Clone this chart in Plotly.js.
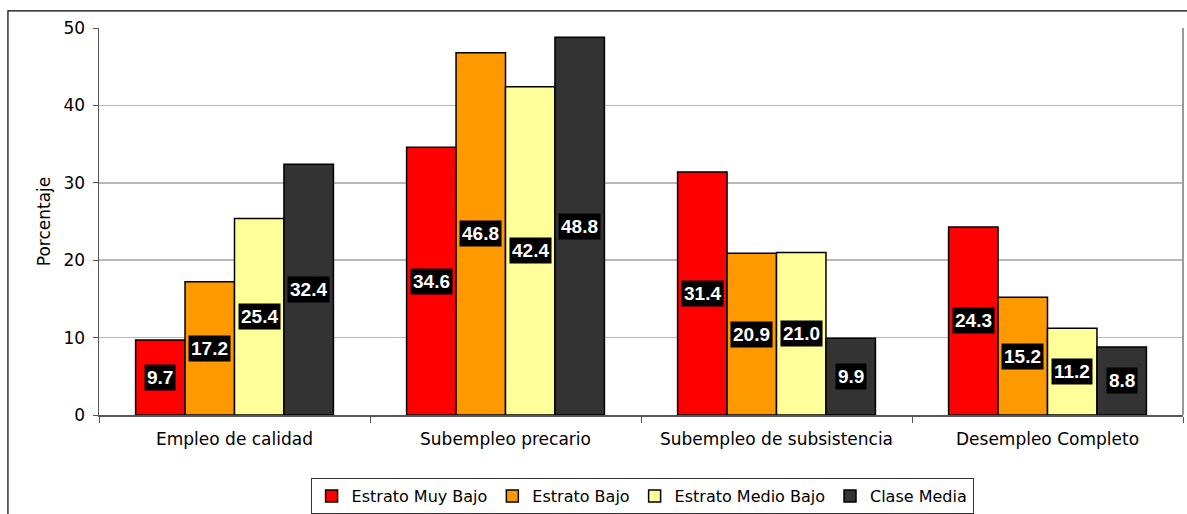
<!DOCTYPE html>
<html>
<head>
<meta charset="utf-8">
<script src="https://cdn.plot.ly/plotly-3.0.1.min.js"></script>
<style>
html,body{margin:0;padding:0;background:#fff;overflow:hidden;}
#chart{width:1187px;height:514px;}
</style>
</head>
<body>
<div id="chart"></div>
<script>
const categories = ["Empleo de calidad", "Subempleo precario", "Subempleo de subsistencia", "Desempleo Completo"];
const seriesNames = ["Estrato Muy Bajo", "Estrato Bajo", "Estrato Medio Bajo", "Clase Media"];
const muyBajo = [9.7, 34.6, 31.4, 24.3];
const bajo = [17.2, 46.8, 20.9, 15.2];
const medioBajo = [25.4, 42.4, 21.0, 11.2];
const claseMedia = [32.4, 48.8, 9.9, 8.8];
const colors = ["#FF0000", "#FF9900", "#FFFF99", "#333333"];
const yTicks = [0, 10, 20, 30, 40, 50];

const series = [muyBajo, bajo, medioBajo, claseMedia];
const bargap = 0.27;
const FONT = "DejaVu Sans, Liberation Sans, Arial, sans-serif";
const LABEL_FONT = "Liberation Sans, Arial, sans-serif";

const traces = series.map((vals, j) => ({
  type: "bar",
  name: seriesNames[j],
  x: categories,
  y: vals,
  marker: {color: colors[j], line: {color: "#000000", width: 1.5}},
  hoverinfo: "none"
}));

const barW = (1 - bargap) / series.length;
const annotations = [];
series.forEach((vals, j) => {
  vals.forEach((v, i) => {
    annotations.push({
      xref: "x", yref: "y",
      x: i + (j - (series.length - 1) / 2) * barW,
      y: v / 2,
      text: "<b>" + v.toFixed(1) + "</b>",
      showarrow: false,
      font: {family: LABEL_FONT, size: 19, color: "#FFFFFF"},
      bgcolor: "#000000",
      borderpad: 2
    });
  });
});

const layout = {
  width: 1187, height: 514,
  margin: {l: 99, r: 4, t: 28, b: 99, autoexpand: false},
  paper_bgcolor: "#FFFFFF",
  plot_bgcolor: "#FFFFFF",
  barmode: "group",
  bargap: bargap,
  bargroupgap: 0,
  font: {family: FONT, size: 17, color: "#000000"},
  showlegend: true,
  legend: {
    orientation: "h", x: 0.501, xanchor: "center", y: -0.163, yanchor: "top",
    bordercolor: "#333333", borderwidth: 1,
    font: {family: FONT, size: 16, color: "#000000"},
    itemwidth: 30, tracegroupgap: 0
  },
  xaxis: {
    type: "category",
    tickson: "boundaries",
    ticks: "outside", ticklen: 6, tickcolor: "#555555",
    showline: true, linecolor: "#555555", linewidth: 1.5,
    showgrid: false,
    tickfont: {family: FONT, size: 17, color: "#000000"},
    ticklabelstandoff: 8,
    fixedrange: true
  },
  yaxis: {
    range: [0, 50],
    tickvals: yTicks,
    ticks: "outside", ticklen: 5, tickcolor: "#555555",
    showline: true, linecolor: "#555555", linewidth: 1.5,
    showgrid: true, gridcolor: "#B8B8B8", gridwidth: 1.5,
    zeroline: false,
    tickfont: {family: FONT, size: 17, color: "#000000"},
    ticklabelstandoff: 4,
    title: {text: "Porcentaje", font: {family: FONT, size: 17, color: "#000000"}, standoff: 8},
    fixedrange: true
  },
  shapes: [
    {type: "line", xref: "paper", yref: "paper", x0: 1, x1: 1, y0: 0, y1: 1,
     line: {color: "#999999", width: 2}},
    {type: "rect", xref: "paper", yref: "paper", x0: -0.084, x1: 1.1, y0: -0.4, y1: 1.044,
     line: {color: "#000000", width: 1.2}, fillcolor: "rgba(0,0,0,0)", layer: "below"}
  ],
  annotations: annotations
};

Plotly.newPlot("chart", traces, layout, {displayModeBar: false, staticPlot: true});
</script>
</body>
</html>
